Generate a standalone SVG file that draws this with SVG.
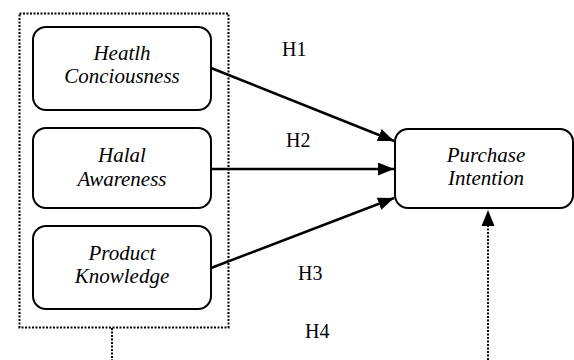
<svg xmlns="http://www.w3.org/2000/svg" width="574" height="360" viewBox="0 0 574 360">
<defs>
<marker id="ah" viewBox="0 0 16 13" refX="16" refY="6.5" markerWidth="16" markerHeight="13" markerUnits="userSpaceOnUse" orient="auto">
<path d="M0,0 L16,6.5 L0,13 Z" fill="#000"/>
</marker>
</defs>
<style>
.box{fill:#fff;stroke:#000;stroke-width:2}
.dot{fill:none;stroke:#000;stroke-width:2;stroke-dasharray:2 1.5}
.t{font-family:'Liberation Serif','Times New Roman',serif;font-size:21px;font-style:italic;text-anchor:middle;fill:#000}
.h{font-family:'Liberation Serif','Times New Roman',serif;font-size:20px;fill:#000}
.ln{stroke:#000;stroke-width:2.5;fill:none}
</style>
<rect id="group-box" class="dot" x="19.5" y="13.5" width="209" height="314"/>
<g id="health">
<rect class="box" x="33" y="27" width="178" height="83" rx="13"/>
<text class="t" x="122" y="60">Heatlh</text>
<text class="t" x="122" y="83">Conciousness</text>
</g>
<g id="halal">
<rect class="box" x="33" y="128" width="178" height="80" rx="13"/>
<text class="t" x="122" y="162">Halal</text>
<text class="t" x="122" y="186">Awareness</text>
</g>
<g id="product">
<rect class="box" x="33" y="226" width="178" height="83" rx="13"/>
<text class="t" x="122" y="260">Product</text>
<text class="t" x="122" y="283">Knowledge</text>
</g>
<g id="purchase">
<rect class="box" x="395" y="129" width="178" height="79" rx="13"/>
<text class="t" x="486" y="162">Purchase</text>
<text class="t" x="486" y="185">Intention</text>
</g>
<g id="connectors">
<line class="ln" x1="211" y1="68" x2="394" y2="141" marker-end="url(#ah)"/>
<line class="ln" x1="211" y1="169" x2="394" y2="169" marker-end="url(#ah)"/>
<line class="ln" x1="211" y1="268" x2="394" y2="198" marker-end="url(#ah)"/>
<line class="dot" x1="112" y1="328" x2="112" y2="360"/>
<line class="dot" x1="488" y1="360" x2="488" y2="224"/>
<path d="M481.5,226 L488,210 L494.5,226 Z" fill="#000"/>
</g>
<g id="labels">
<text class="h" x="282" y="56">H1</text>
<text class="h" x="286" y="147">H2</text>
<text class="h" x="298" y="280">H3</text>
<text class="h" x="305" y="338">H4</text>
</g>
</svg>
